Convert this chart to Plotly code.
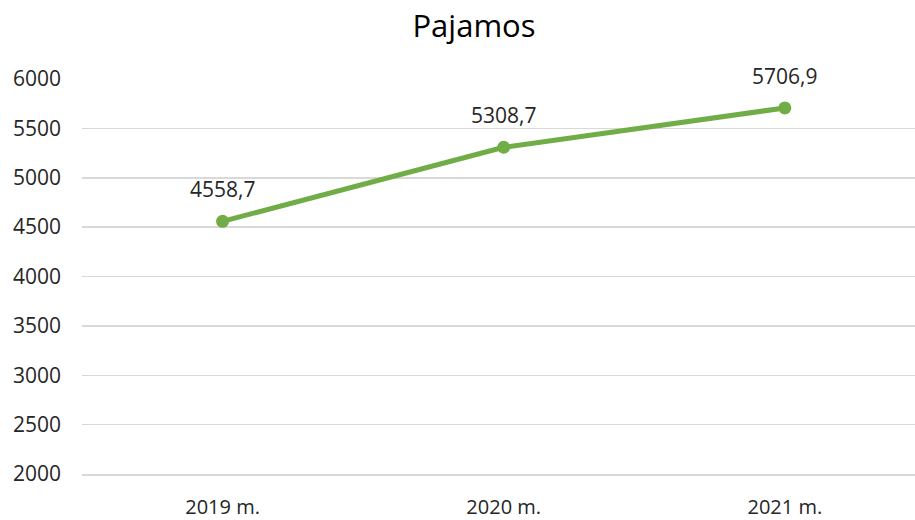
import plotly.graph_objects as go

categories = ["2019 m.", "2020 m.", "2021 m."]
values = [4558.7, 5308.7, 5706.9]
labels = ["4558,7", "5308,7", "5706,9"]
y_ticks = [2000, 2500, 3000, 3500, 4000, 4500, 5000, 5500, 6000]

fig = go.Figure()
fig.add_trace(go.Scatter(
    x=[0, 1, 2], y=values, mode="lines+markers",
    line=dict(color="#70AD47", width=5),
    marker=dict(color="#70AD47", size=13),
    cliponaxis=False, hoverinfo="skip",
))
for i, (v, t) in enumerate(zip(values, labels)):
    fig.add_annotation(
        x=i, y=v, text=t, showarrow=False, xanchor="center", yanchor="middle",
        yshift=32, font=dict(size=21, color="#262626", family="Open Sans"),
    )
fig.update_layout(
    width=915, height=520,
    margin=dict(l=82, r=0, t=79, b=42),
    paper_bgcolor="white", plot_bgcolor="white",
    showlegend=False,
    title=dict(text="Pajamos", x=474 / 915, xanchor="center", xref="container",
               y=1 - 26 / 520, yanchor="middle", yref="container",
               font=dict(size=31, color="#000000", family="Open Sans")),
    font=dict(family="Open Sans", color="#262626"),
)
fig.update_xaxes(
    tickmode="array", tickvals=[0, 1, 2], ticktext=categories,
    range=[-0.5, 2.463], showgrid=False, zeroline=False,
    showline=True, linecolor="#D9D9D9", linewidth=1.5,
    tickfont=dict(size=20, color="#262626"), ticks="", ticklabelstandoff=14,
)
fig.update_yaxes(
    range=[2000, 6000], tickvals=y_ticks, showgrid=True, gridcolor="#D9D9D9",
    gridwidth=1.5, zeroline=False, showline=False,
    tickfont=dict(size=21, color="#262626"), ticks="", ticklabelstandoff=20,
)
fig.write_html(
    "out.html",
    config={"displayModeBar": False, "staticPlot": True},
    post_script="document.body.style.margin='0';document.body.style.overflow='hidden';",
)
